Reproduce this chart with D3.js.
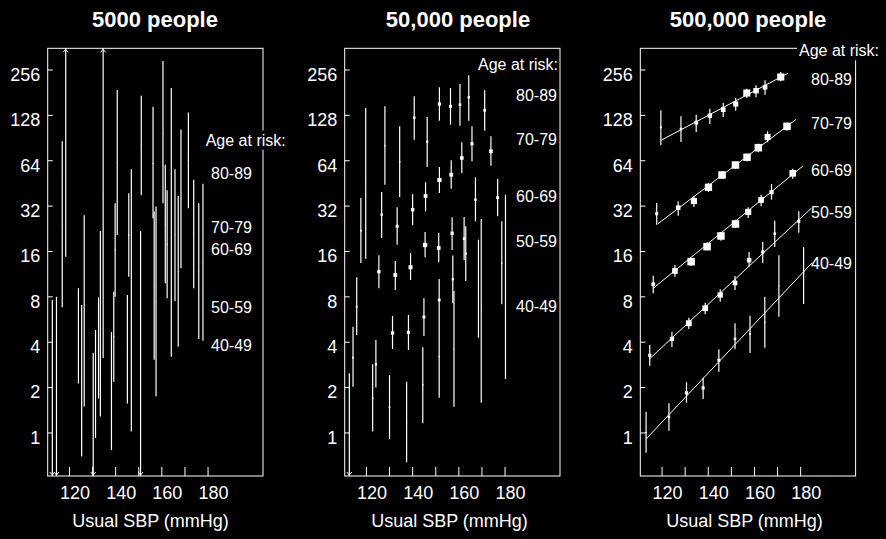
<!DOCTYPE html>
<html>
<head>
<meta charset="utf-8">
<script src="https://cdn.jsdelivr.net/npm/d3@7"></script>
<style>
  body { margin: 0; background: #000; }
  svg { display: block; font-family: "Liberation Sans", Arial, sans-serif; }
</style>
</head>
<body>
<svg id="chart" width="886" height="539"></svg>
<script>
// axis settings
const sbpDomain = [110.8, 204];
const riskDomain = [0.514, 354];
const riskTicks = [1, 2, 4, 8, 16, 32, 64, 128, 256];
const sbpTicks = [120, 130, 140, 150, 160, 170, 180];
const sbpLabels = [120, 140, 160, 180];
const ageGroups = ["80-89", "70-79", "60-69", "50-59", "40-49"];
const titles = ["5000 people", "50,000 people", "500,000 people"];

// every point is [usual SBP, log2 risk, log2 lower CI, log2 upper CI]
// (CI ends outside the axis range are drawn clipped with an arrow)
const k5 = [
  [112.8, 0.70, -1.5, 2.92], [114.6, 0.75, -1.5, 2.99], [117.1, 4.59, 2.76, 6.42],
  [118.6, 6.93, 3.87, 9.5], [124.1, 2.13, 1.08, 3.18], [125.5, 1.14, -0.53, 2.81],
  [126.6, 2.66, 0.57, 4.79], [130.5, -0.02, -1.8, 1.75], [131.5, 1.07, -0.12, 2.26],
  [132.8, 1.87, 0.75, 2.98], [133.6, 2.39, 0.35, 4.44], [134.8, 5.18, 1.64, 9.5],
  [138.4, 0.90, -0.39, 2.21], [139.4, 2.11, 1.12, 3.10], [140.0, 4.02, 2.99, 5.05],
  [140.9, 5.95, 4.35, 7.55], [145.3, 1.84, 0.64, 3.03], [145.9, 4.35, 3.43, 5.27],
  [147.0, 2.91, 0.02, 5.80], [151.0, 1.50, -1.5, 4.44], [151.3, 6.33, 5.23, 7.42],
  [156.4, 5.93, 4.72, 7.18], [156.9, 3.23, 1.60, 4.87], [157.7, 2.89, 0.80, 4.98],
  [160.7, 6.60, 5.05, 8.19], [161.7, 4.59, 3.29, 5.90], [162.5, 4.15, 2.96, 5.34],
  [164.3, 4.63, 1.67, 7.59], [165.9, 4.35, 2.90, 5.80], [167.3, 3.55, 1.89, 5.21],
  [168.5, 5.15, 3.62, 6.68], [171.7, 6.00, 4.94, 7.05], [174.0, 4.38, 3.18, 5.57],
  [176.2, 3.56, 2.06, 5.05], [178.0, 3.75, 2.02, 5.48]
];

const k50_80 = [
  [119.9, 5.477, 3.830, 7.152], [128.2, 6.321, 5.461, 7.189], [134.6, 5.968, 5.190, 6.748],
  [140.9, 6.938, 6.453, 7.409], [146.5, 6.409, 5.851, 6.953], [151.8, 7.240, 6.872, 7.608],
  [156.6, 7.189, 6.784, 7.592], [160.7, 7.225, 6.762, 7.681], [164.5, 7.387, 6.872, 7.872],
  [171.4, 7.101, 6.651, 7.542]
];
const k50_70 = [
  [117.8, 4.447, 3.736, 5.168], [126.8, 4.800, 4.287, 5.300], [133.5, 4.544, 4.139, 4.963],
  [140.2, 4.911, 4.566, 5.256], [145.8, 5.212, 4.875, 5.514], [151.8, 5.565, 5.278, 5.851],
  [156.9, 5.682, 5.373, 5.999], [161.5, 6.050, 5.719, 6.396], [165.9, 6.365, 5.977, 6.748],
  [174.1, 6.197, 5.880, 6.528]
];
const k50_60 = [
  [116.0, 2.772, 2.149, 3.420], [125.6, 3.544, 3.178, 3.905], [132.7, 3.471, 3.140, 3.780],
  [139.3, 3.641, 3.361, 3.956], [145.6, 4.132, 3.861, 4.419], [151.5, 4.066, 3.751, 4.397],
  [157.3, 4.390, 4.020, 4.743], [162.5, 4.271, 3.802, 4.749], [167.4, 5.131, 4.655, 5.624],
  [177.0, 5.175, 4.765, 5.587]
];
const k50_50 = [
  [114.4, 1.649, 1.009, 2.332], [124.3, 1.503, 0.988, 2.039], [131.5, 2.193, 1.840, 2.567],
  [138.4, 2.208, 1.818, 2.590], [145.1, 2.545, 2.127, 2.958], [151.7, 2.920, 2.523, 3.383],
  [157.6, 3.376, 2.847, 3.900], [163.2, 3.941, 3.339, 4.544], [168.7, 3.178, 2.089, 4.249],
  [178.8, 3.729, 2.826, 4.655]
];
const k50_40 = [
  [112.8, -0.30, -1.5, 1.305], [122.9, 0.754, 0.018, 1.503], [130.2, 0.555, -0.143, 1.267],
  [137.6, 0.216, -0.657, 1.120], [144.6, 1.047, 0.203, 1.878], [151.7, 1.671, 0.767, 2.520],
  [158.1, 1.834, 0.569, 3.118], [169.9, 2.662, 0.657, 4.705], [180.4, 3.191, 1.179, 5.241]
];

const k500_80 = [
  [119.7, 6.726, 6.330, 7.100], [128.4, 6.689, 6.402, 6.969], [135.0, 6.828, 6.623, 7.004],
  [140.9, 6.982, 6.799, 7.136], [146.7, 7.114, 6.953, 7.262], [152.1, 7.240, 7.092, 7.372],
  [156.9, 7.482, 7.372, 7.577], [160.9, 7.533, 7.387, 7.652], [164.8, 7.608, 7.445, 7.762],
  [171.6, 7.835, 7.740, 7.945]
];
const k500_70 = [
  [117.9, 4.822, 4.580, 5.058], [127.2, 4.954, 4.778, 5.095], [134.0, 5.102, 4.970, 5.206],
  [140.3, 5.404, 5.300, 5.499], [146.2, 5.675, 5.594, 5.757], [152.0, 5.895, 5.814, 5.961],
  [157.0, 6.065, 5.977, 6.144], [161.9, 6.277, 6.175, 6.365], [165.9, 6.512, 6.396, 6.638],
  [174.3, 6.748, 6.651, 6.827]
];
const k500_60 = [
  [116.4, 3.266, 3.068, 3.456], [125.8, 3.559, 3.434, 3.691], [132.8, 3.764, 3.669, 3.853],
  [139.7, 4.095, 4.016, 4.191], [145.7, 4.331, 4.227, 4.419], [152.0, 4.595, 4.507, 4.690],
  [157.5, 4.860, 4.727, 4.963], [163.1, 5.124, 4.985, 5.241], [167.6, 5.294, 5.131, 5.477],
  [176.8, 5.712, 5.594, 5.814]
];
const k500_50 = [
  [114.9, 1.701, 1.472, 1.928], [124.5, 2.061, 1.884, 2.222], [131.8, 2.407, 2.281, 2.530],
  [138.9, 2.737, 2.605, 2.861], [145.4, 3.030, 2.883, 3.156], [151.8, 3.295, 3.140, 3.449],
  [157.9, 3.795, 3.654, 3.978], [163.8, 3.978, 3.736, 4.198], [169.0, 4.381, 4.088, 4.668],
  [179.4, 4.654, 4.403, 4.875]
];
const k500_40 = [
  [113.3, -0.004, -0.445, 0.458], [123.2, 0.342, 0.040, 0.643], [130.8, 0.871, 0.657, 1.106],
  [138.0, 0.981, 0.738, 1.208], [144.8, 1.591, 1.340, 1.834], [151.8, 2.061, 1.834, 2.407],
  [158.3, 2.171, 1.752, 2.574], [164.7, 2.428, 1.869, 2.993], [170.8, 3.229, 2.552, 3.905],
  [181.5, 3.487, 2.832, 4.088]
];
// fitted lines for 500,000 people: [sbp start, log2 start, sbp end, log2 end]
const fits500 = [
  [120.0, 6.446, 174.7, 7.916],
  [118.3, 4.595, 178.3, 6.903],
  [116.4, 3.178, 181.2, 5.873],
  [114.6, 1.613, 184.8, 4.941],
  [113.2, -0.150, 185.2, 3.742]
];

const panelPoints = [
  k5,
  [].concat(k50_80, k50_70, k50_60, k50_50, k50_40),
  [].concat(k500_80, k500_70, k500_60, k500_50, k500_40)
];

// layout
const frame = {top: 48.3, bottom: 476, width: 215.3};
const h = frame.bottom - frame.top;
const layout = [
  {left: 47.7, titleX: 155, xLabelX: 150.5, headX: 205.7, headY: 140, ageX: 211,
   ageY: [173.3, 227.7, 249.3, 307.7, 345], k: 2.4, maxSize: 5},
  {left: 344.7, titleX: 458, xLabelX: 449.5, headX: 478, headY: 64.3, ageX: 516,
   ageY: [95, 139, 196.7, 241.7, 306.7], k: 2.4, maxSize: 5},
  {left: 640.3, titleX: 748, xLabelX: 744.5, headX: 799, headY: 50.7, ageX: 811,
   ageY: [79, 123.3, 170, 212.7, 263.3], k: 1.45, maxSize: 7.5}
];

const svg = d3.select("#chart");
svg.append("rect").attr("width", 886).attr("height", 539).attr("fill", "#000");

const x = d3.scaleLinear().domain(sbpDomain).range([0, frame.width]);
const y = d3.scaleLog().base(2).domain(riskDomain).range([h, 0]);
const ly = v => y(Math.pow(2, v));
const yClamp = v => Math.max(0, Math.min(h, ly(v)));

layout.forEach(function(L, i) {
  const g = svg.append("g").attr("transform", "translate(" + L.left + "," + frame.top + ")");

  g.append("rect")
    .attr("width", frame.width).attr("height", h)
    .attr("fill", "none").attr("stroke", "#fff").attr("stroke-width", 1);

  // y axis, ticks inside the frame
  const ya = g.append("g")
    .call(d3.axisLeft(y).tickValues(riskTicks).tickFormat(d3.format("d"))
      .tickSize(-5).tickPadding(7.5));
  ya.select(".domain").remove();
  ya.attr("font-size", 18).attr("font-family", null);
  ya.selectAll("line").attr("stroke", "#fff");
  ya.selectAll("text").attr("fill", "#fff").attr("y", 5);

  // x axis
  const xa = g.append("g")
    .attr("transform", "translate(0," + h + ")")
    .call(d3.axisBottom(x).tickValues(sbpTicks)
      .tickFormat(d => sbpLabels.includes(d) ? d : "")
      .tickSize(-9).tickPadding(10.5));
  xa.select(".domain").remove();
  xa.attr("font-size", 18).attr("font-family", null);
  xa.selectAll("line").attr("stroke", "#fff");
  xa.selectAll("text").attr("fill", "#fff").attr("x", 5.5);

  // fitted lines
  if (i === 2) {
    g.selectAll(".fit")
      .data(fits500)
      .join("line")
      .attr("x1", d => x(d[0])).attr("y1", d => ly(d[1]))
      .attr("x2", d => x(d[2])).attr("y2", d => ly(d[3]))
      .attr("stroke", "#fff").attr("stroke-width", 1);
  }

  const pts = panelPoints[i];
  const topLog = Math.log2(riskDomain[1]), botLog = Math.log2(riskDomain[0]);

  // confidence intervals
  g.selectAll(".ci")
    .data(pts)
    .join("line")
    .attr("x1", d => x(d[0])).attr("x2", d => x(d[0]))
    .attr("y1", d => yClamp(d[3])).attr("y2", d => yClamp(d[2]))
    .attr("stroke", "#fff").attr("stroke-width", 1.2);

  // arrows where the interval runs off the axis
  g.selectAll(".arrowUp")
    .data(pts.filter(d => d[3] > topLog))
    .join("path")
    .attr("d", d => "M" + (x(d[0]) - 2.5) + ",4 L" + x(d[0]) + ",1 L" + (x(d[0]) + 2.5) + ",4")
    .attr("fill", "none").attr("stroke", "#fff").attr("stroke-width", 1);
  g.selectAll(".arrowDown")
    .data(pts.filter(d => d[2] < botLog))
    .join("path")
    .attr("d", d => "M" + (x(d[0]) - 2.5) + "," + (h - 4) + " L" + x(d[0]) + "," + (h - 1) + " L" + (x(d[0]) + 2.5) + "," + (h - 4))
    .attr("fill", "none").attr("stroke", "#fff").attr("stroke-width", 1);

  // point estimates, square size from precision
  const size = d => Math.min(L.maxSize, L.k / (d[3] - d[2]));
  g.selectAll(".pt")
    .data(pts.filter(d => d[1] > botLog && d[1] < topLog))
    .join("rect")
    .attr("x", d => x(d[0]) - size(d) / 2)
    .attr("y", d => ly(d[1]) - size(d) / 2)
    .attr("width", size).attr("height", size)
    .attr("fill", "#fff");

  // title and x label
  svg.append("text")
    .attr("x", L.titleX).attr("y", 27)
    .attr("text-anchor", "middle")
    .attr("font-size", 22).attr("font-weight", "bold")
    .attr("fill", "#fff")
    .text(titles[i]);

  svg.append("text")
    .attr("x", L.xLabelX).attr("y", 526.7)
    .attr("text-anchor", "middle")
    .attr("font-size", 18)
    .attr("fill", "#fff")
    .text("Usual SBP (mmHg)");

  // legend header with black backing so it cuts the frame
  const head = svg.append("g");
  const headText = head.append("text")
    .attr("x", L.headX).attr("y", L.headY).attr("dy", "0.35em")
    .attr("font-size", 16).attr("fill", "#fff")
    .text("Age at risk:");
  const bb = headText.node().getBBox();
  head.insert("rect", "text")
    .attr("x", bb.x - 2).attr("y", bb.y - 1)
    .attr("width", bb.width + 3).attr("height", bb.height + 2)
    .attr("fill", "#000");

  svg.selectAll(".age" + i)
    .data(ageGroups)
    .join("text")
    .attr("x", L.ageX).attr("y", (d, j) => L.ageY[j]).attr("dy", "0.35em")
    .attr("font-size", 16).attr("fill", "#fff")
    .text(d => d);
});
</script>
</body>
</html>
